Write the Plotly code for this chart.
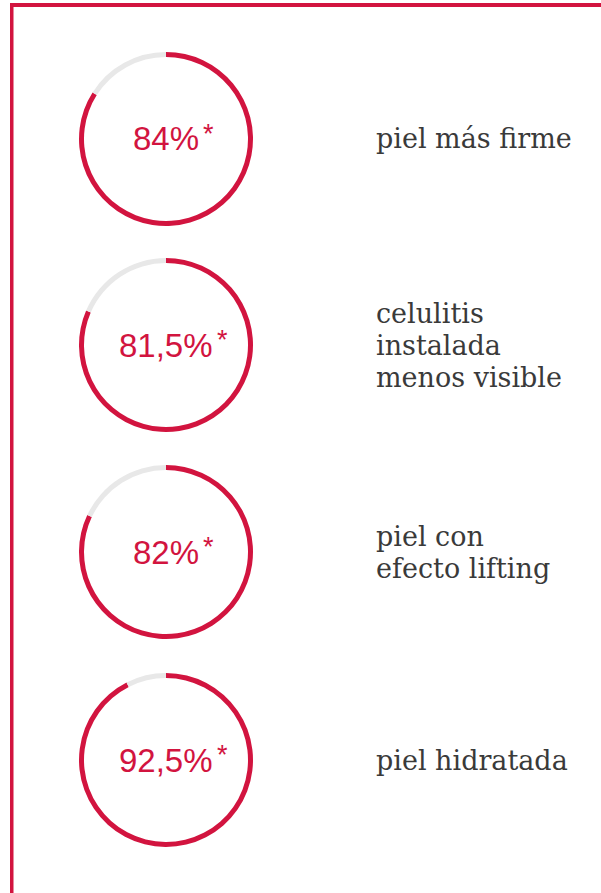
import plotly.graph_objects as go

W, H = 601, 893

# ---- data ----
percent_values = [84, 81.5, 82, 92.5]
percent_texts = ["84%", "81,5%", "82%", "92,5%"]
claim_lines = [
    ["piel más firme"],
    ["celulitis", "instalada", "menos visible"],
    ["piel con", "efecto lifting"],
    ["piel hidratada"],
]

RED = "#d2143f"
GREY = "#e8e8e8"
TEXT_GREY = "#3a3a3a"

# ---- layout geometry (pixels) ----
cx = 166
centers_y = [139, 345, 552, 760]
outer_r = 87
ring = 5
label_x = 374
pct_font = 33
star_font = 27
lab_font = 27
lab_step = 32

# approximate Liberation Sans advance widths (em) used to place the asterisk
ADV = {"%": 0.889, ",": 0.278}


def text_width(s, size):
    return sum(ADV.get(ch, 0.556) for ch in s) * size


fig = go.Figure()
annotations = []
for val, ptxt, lines, cy in zip(percent_values, percent_texts, claim_lines, centers_y):
    x0 = (cx - outer_r) / W
    x1 = (cx + outer_r) / W
    y0 = (H - cy - outer_r) / H
    y1 = (H - cy + outer_r) / H
    fig.add_trace(go.Pie(
        values=[val, 100 - val],
        labels=["a", "b"],
        sort=False,
        direction="clockwise",
        rotation=0,
        hole=(outer_r - ring) / outer_r,
        marker=dict(colors=[RED, GREY], line=dict(width=0)),
        textinfo="none",
        hoverinfo="skip",
        showlegend=False,
        domain=dict(x=[x0, x1], y=[y0, y1]),
    ))
    yc = (H - cy) / H
    annotations.append(dict(
        x=cx / W, y=yc, xref="paper", yref="paper",
        text=ptxt, showarrow=False,
        xanchor="center", yanchor="middle",
        font=dict(family="Liberation Sans, Arial, sans-serif", size=pct_font, color=RED),
    ))
    annotations.append(dict(
        x=cx / W, y=yc, xref="paper", yref="paper",
        text="*", showarrow=False,
        xanchor="left", yanchor="middle",
        xshift=text_width(ptxt, pct_font) / 2 + 2,
        yshift=5,
        font=dict(family="Liberation Sans, Arial, sans-serif", size=star_font, color=RED),
    ))
    n = len(lines)
    for i, ln in enumerate(lines):
        annotations.append(dict(
            x=label_x / W, y=yc, xref="paper", yref="paper",
            text=ln, showarrow=False,
            xanchor="left", yanchor="middle",
            yshift=-(i - (n - 1) / 2) * lab_step,
            font=dict(family="DejaVu Serif, serif", size=lab_font, color=TEXT_GREY),
        ))

shapes = [
    dict(type="rect", xref="paper", yref="paper", x0=10 / W, x1=1, y0=1 - 7 / H, y1=1 - 3 / H,
         fillcolor=RED, line=dict(width=0)),
    dict(type="rect", xref="paper", yref="paper", x0=10 / W, x1=13.5 / W, y0=0, y1=1 - 3 / H,
         fillcolor=RED, line=dict(width=0)),
]

fig.update_layout(
    width=W, height=H,
    margin=dict(l=0, r=0, t=0, b=0),
    paper_bgcolor="white", plot_bgcolor="white",
    annotations=annotations,
    shapes=shapes,
)
fig.write_html("out.html", config={"displayModeBar": False})
